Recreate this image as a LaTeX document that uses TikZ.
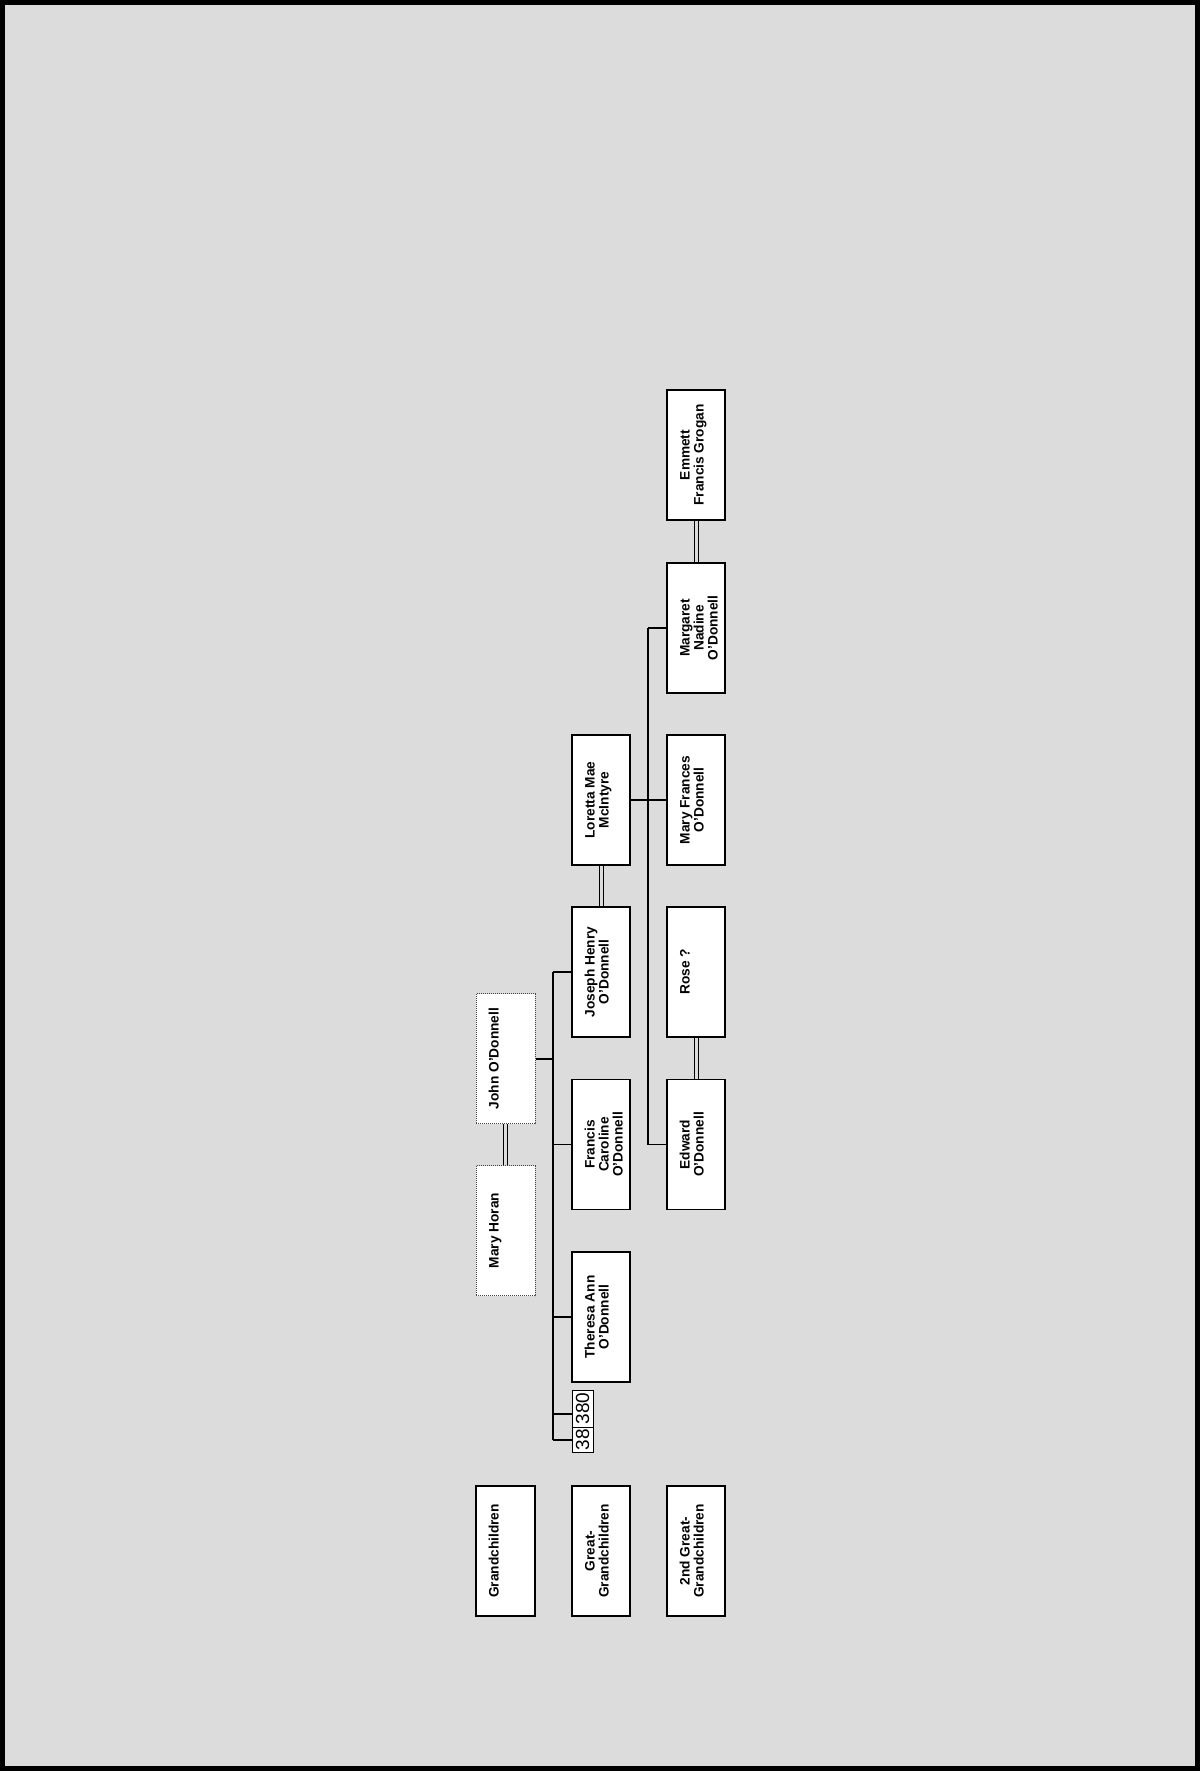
\documentclass[tikz,border=0pt]{standalone}
\usepackage{fontspec}
\setmainfont{Liberation Sans}
\definecolor{bgc}{RGB}{220,220,220}
\newcommand{\rtxt}[2][58pt]{\rotatebox{90}{\parbox[c][#1][t]{130pt}{\centering\rule{0pt}{22.5pt}#2\par}}}
\begin{document}
\begin{tikzpicture}[x=1pt,y=-1pt,
  box/.style={draw=black, line width=1.5pt, fill=white, inner sep=0pt,
    minimum width=58pt, minimum height=130pt,
    font=\fontsize{13.7}{14}\selectfont\bfseries},
  dotbox/.style={box, draw=gray!55!black, line width=1pt, dash pattern=on 1pt off 1pt},
  numbox/.style={draw=black, line width=0.6pt, fill=white, inner sep=0pt,
    minimum width=21pt, font=\fontsize{19}{19}\selectfont},
  conn/.style={line width=1.3pt},
  bus/.style={line width=1.7pt},
  marr/.style={double=bgc, double distance=3pt, line width=1pt}]
\useasboundingbox (0,0) rectangle (1200,1771);
\fill[bgc] (0,0) rectangle (1200,1771);
\draw[line width=5pt] (2.5,2.5) rectangle (1197.5,1768.5);

% generation 1 (grandchildren)
\node[dotbox] (john) at (505.5,1058.5) {\rtxt[59pt]{John O'Donnell}};
\node[dotbox] (mary) at (505.5,1230.5) {\rtxt[59pt]{Mary Horan}};

% generation 2
\node[box] (loretta) at (601,800) {\rtxt{Loretta Mae\\McIntyre}};
\node[box] (joseph) at (601,972) {\rtxt{Joseph Henry\\O'Donnell}};
\node[box] (francis) at (601,1144.5) {\rtxt{Francis\\Caroline\\O'Donnell}};
\node[box] (theresa) at (601,1317) {\rtxt{Theresa Ann\\O'Donnell}};
\node[numbox, minimum height=37pt] (n380) at (582.5,1408.5) {\rotatebox{90}{380}};
\node[numbox, minimum height=25pt] (n38) at (582.5,1439.5) {\rotatebox{90}{38}};

% generation 3
\node[box] (emmett) at (696,455) {\rtxt{Emmett\\Francis Grogan}};
\node[box] (margaret) at (696,628) {\rtxt{Margaret\\Nadine\\O'Donnell}};
\node[box] (maryf) at (696,800) {\rtxt{Mary Frances\\O'Donnell}};
\node[box] (rose) at (696,972) {\rtxt{Rose ?}};
\node[box] (edward) at (696,1144.5) {\rtxt{Edward\\O'Donnell}};

% legend
\node[box] (lg1) at (505.5,1551) {\rtxt[59pt]{Grandchildren}};
\node[box] (lg2) at (601,1551) {\rtxt{Great-\\Grandchildren}};
\node[box] (lg3) at (696,1551) {\rtxt{2nd Great-\\Grandchildren}};

% marriages
\draw[marr] (john.south) -- (mary.north);
\draw[marr] (loretta.south) -- (joseph.north);
\draw[marr] (rose.south) -- (edward.north);
\draw[marr] (emmett.south) -- (margaret.north);

% children of John & Mary
\coordinate (b1top) at (553,972);
\coordinate (b1bot) at (553,1440);
\draw[bus] (b1top) -- (b1bot);
\draw[line width=2pt] (john.east) -- (john.east -| b1top);
\draw[conn] (b1top) -- (joseph.west);
\draw[conn] (francis.west -| b1top) -- (francis.west);
\draw[conn] (theresa.west -| b1top) -- (theresa.west);
\draw[conn] (b1bot) -- (n38.west |- b1bot);
\coordinate (c380) at ([yshift=-5.5pt]n380.west);
\draw[conn] (c380 -| b1top) -- (c380);

% children of Joseph & Loretta
\coordinate (b2top) at (648,628);
\coordinate (b2bot) at (648,1144.5);
\draw[bus] (b2top) -- (b2bot);
\draw[conn] (loretta.east) -- (maryf.west);
\draw[conn] (b2top) -- (margaret.west);
\draw[conn] (b2bot) -- (edward.west);
\end{tikzpicture}
\end{document}
